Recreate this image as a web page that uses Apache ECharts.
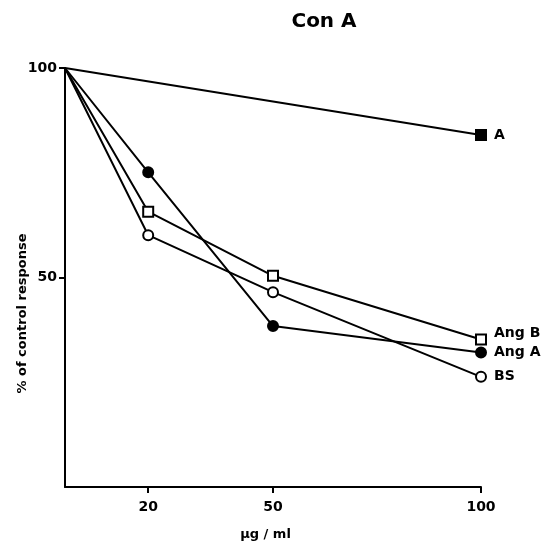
<!DOCTYPE html>
<html>
<head>
<meta charset="utf-8">
<script src="https://cdn.jsdelivr.net/npm/echarts@6/dist/echarts.min.js"></script>
<style>html,body{margin:0;padding:0;background:#fff;}#c{width:549px;height:541px;}</style>
</head>
<body>
<div id="c"></div>
<script>
const xValues = [0, 20, 50, 100];
const xTickLabels = [20, 50, 100];
const yTickLabels = [50, 100];
const seriesNames = ['A', 'Ang B', 'Ang A', 'BS'];
const valuesA = [100, null, null, 84];
const valuesAngB = [100, 65.7, 50.4, 35.2];
const valuesAngA = [100, 75.1, 38.4, 32.1];
const valuesBS = [100, 60.1, 46.5, 26.3];

const styles = {
  'A': {symbol: 'rect', fill: '#000', labelOffset: [0, 0]},
  'Ang B': {symbol: 'rect', fill: '#fff', labelOffset: [0, -6]},
  'Ang A': {symbol: 'circle', fill: '#000', labelOffset: [0, 0]},
  'BS': {symbol: 'circle', fill: '#fff', labelOffset: [0, 0]}
};
const allValues = [valuesA, valuesAngB, valuesAngA, valuesBS];
const font = 'DejaVu Sans';

function buildData(vals) {
  const out = [];
  vals.forEach((v, i) => {
    if (v === null) return;
    const item = {value: [xValues[i], v]};
    if (i === 0) item.symbol = 'none';
    out.push(item);
  });
  return out;
}

const series = seriesNames.map((name, k) => {
  const st = styles[name];
  const data = buildData(allValues[k]);
  data[data.length - 1].label = {
    show: true, position: 'right', distance: 7, formatter: name,
    color: '#000', fontFamily: font, fontWeight: 'bold', fontSize: 14,
    offset: st.labelOffset
  };
  return {
    name: name, type: 'line', data: data, symbol: st.symbol, symbolSize: 10,
    showAllSymbol: true,
    lineStyle: {color: '#000', width: 2},
    itemStyle: {color: st.fill, borderColor: '#000', borderWidth: 2},
    emphasis: {disabled: true}, animation: false, z: 3
  };
});

const chart = echarts.init(document.getElementById('c'), null, {renderer: 'canvas'});
chart.setOption({
  backgroundColor: '#fff',
  animation: false,
  title: {
    text: 'Con A', left: 319, top: 7, textAlign: 'center',
    textStyle: {fontFamily: font, fontWeight: 'bold', fontSize: 20, color: '#000'}
  },
  grid: {left: 65, right: 68, top: 68, bottom: 54, containLabel: false, outerBoundsMode: 'none'},
  xAxis: {
    type: 'value', min: 0, max: 100,
    name: 'μg / ml', nameLocation: 'middle', nameGap: 41, nameMoveOverlap: false,
    nameTextStyle: {fontFamily: font, fontWeight: 'bold', fontSize: 13, color: '#000', padding: [0, 15, 0, 0]},
    axisLine: {show: true, lineStyle: {color: '#000', width: 2}},
    axisTick: {show: true, inside: false, length: 6, customValues: xTickLabels, lineStyle: {color: '#000', width: 2}},
    axisLabel: {customValues: xTickLabels, margin: 13, fontFamily: font, fontWeight: 'bold', fontSize: 14, color: '#000'},
    splitLine: {show: false}
  },
  yAxis: {
    type: 'value', min: 0, max: 100,
    name: '% of control response', nameLocation: 'middle', nameGap: 36, nameRotate: 90, nameMoveOverlap: false,
    nameTextStyle: {fontFamily: font, fontWeight: 'bold', fontSize: 13, color: '#000', padding: [0, 72, 0, 0]},
    axisLine: {show: true, lineStyle: {color: '#000', width: 2}},
    axisTick: {show: true, inside: false, length: 6, customValues: yTickLabels, lineStyle: {color: '#000', width: 2}},
    axisLabel: {customValues: yTickLabels, margin: 8, fontFamily: font, fontWeight: 'bold', fontSize: 14, color: '#000'},
    splitLine: {show: false}
  },
  series: series
});
</script>
</body>
</html>
